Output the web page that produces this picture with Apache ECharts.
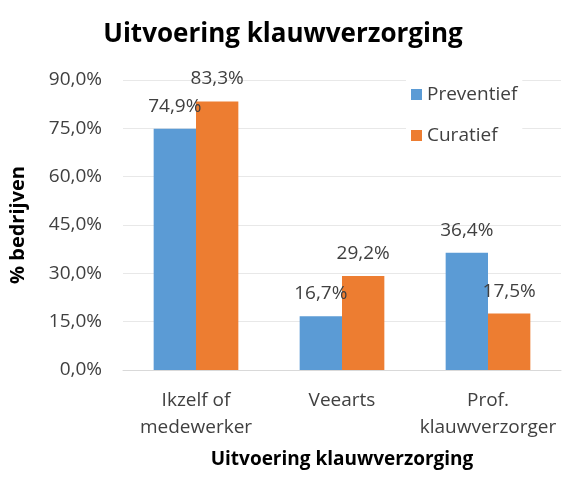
<!DOCTYPE html>
<html>
<head>
<meta charset="utf-8">
<script src="https://cdn.jsdelivr.net/npm/echarts@6/dist/echarts.min.js"></script>
<style>
  html, body { margin: 0; padding: 0; background: #fff; }
  #chart { width: 566px; height: 479px; }
</style>
</head>
<body>
<div id="chart"></div>
<script>
const categories = ['Ikzelf of\nmedewerker', 'Veearts', 'Prof.\nklauwverzorger']
const preventief = [74.9, 16.7, 36.4]
const curatief = [83.3, 29.2, 17.5]
const yTicks = [0, 15, 30, 45, 60, 75, 90]

const font = '"Open Sans", "Liberation Sans", sans-serif'
const fmt = v => v.toFixed(1).replace('.', ',') + '%'

const chart = echarts.init(document.getElementById('chart'))

const labelStyle = {
  show: true,
  position: 'top',
  distance: 13,
  fontFamily: font,
  fontSize: 19,
  color: '#404040',
  formatter: p => fmt(p.value)
}

chart.setOption({
  animation: false,
  textStyle: { fontFamily: font },
  title: {
    text: 'Uitvoering klauwverzorging',
    left: 'center',
    top: 17,
    textStyle: { fontFamily: font, fontSize: 26, fontWeight: 'bold', color: '#000' }
  },
  legend: {
    orient: 'vertical',
    left: 406,
    top: 80,
    itemWidth: 11,
    itemHeight: 11,
    itemGap: 22,
    icon: 'rect',
    backgroundColor: '#fff',
    textStyle: { fontFamily: font, fontSize: 19, color: '#404040' },
    data: ['Preventief', 'Curatief']
  },
  grid: { left: 119, right: 5, top: 80, bottom: 109 },
  xAxis: {
    type: 'category',
    data: categories,
    name: 'Uitvoering klauwverzorging',
    nameLocation: 'middle',
    nameGap: 80,
    nameTextStyle: { fontFamily: font, fontSize: 19, fontWeight: 'bold', color: '#000' },
    axisLine: { lineStyle: { color: '#d9d9d9' } },
    axisTick: { show: false },
    axisLabel: { interval: 0, fontFamily: font, fontSize: 19, color: '#404040', margin: 17, lineHeight: 27 }
  },
  yAxis: {
    type: 'value',
    min: yTicks[0],
    max: yTicks[yTicks.length - 1],
    interval: 15,
    name: '% bedrijven',
    nameLocation: 'middle',
    nameGap: 95,
    nameTextStyle: { fontFamily: font, fontSize: 20, fontWeight: 'bold', color: '#000' },
    axisLine: { show: false },
    axisTick: { show: false },
    splitLine: { lineStyle: { color: '#e8e8e8' } },
    axisLabel: { fontFamily: font, fontSize: 19, color: '#404040', margin: 21, formatter: v => fmt(v) }
  },
  series: [
    {
      name: 'Preventief',
      type: 'bar',
      data: preventief,
      itemStyle: { color: '#5B9BD5' },
      barGap: '0%',
      barCategoryGap: '42%',
      label: labelStyle
    },
    {
      name: 'Curatief',
      type: 'bar',
      data: curatief,
      itemStyle: { color: '#ED7D31' },
      label: labelStyle
    }
  ]
})
</script>
</body>
</html>
